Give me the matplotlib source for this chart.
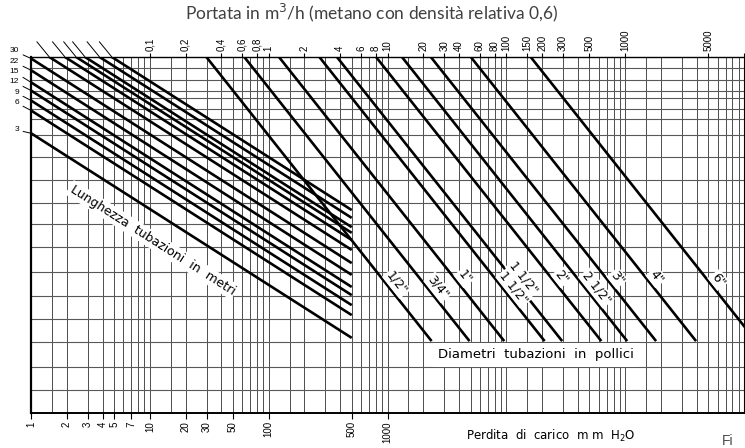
import numpy as np
import matplotlib
matplotlib.use("Agg")
import matplotlib.pyplot as plt
from matplotlib.ticker import FixedLocator, LogLocator, NullFormatter, NullLocator

# bottom axis: pressure drop (mm H2O)
bottom_ticks = [1, 2, 3, 4, 5, 7, 10, 20, 30, 50, 100, 500, 1000]
bottom_labels = ["1", "2", "3", "4", "5", "7", "10", "20", "30", "50", "100", "500", "1000"]

# top axis: flow (m3/h), same log scale shifted by two decades
top_ticks = [0.1, 0.2, 0.4, 0.6, 0.8, 1, 2, 4, 6, 8, 10, 20, 30, 40, 60, 80,
             100, 150, 200, 300, 500, 1000, 5000, 10000]
top_labels = ["0,1", "0,2", "0,4", "0,6", "0,8", "1", "2", "4", "6", "8", "10", "20", "30", "40", "60", "80",
              "100", "150", "200", "300", "500", "1000", "5000", ""]

grid_subs = [1, 1.5, 2, 3, 4, 5, 6, 7, 8, 9]
h_grid = [6.5, 13, 20, 26.5, 33, 39.5, 46.5, 53, 59, 65.5, 72, 78, 82.5, 85.5, 88.5, 90.5, 93.5, 97]

# pipe length lines (m): height where each line stops at 500 mm H2O
lengths = [3, 6, 9, 12, 15, 22, 30, 45, 60, 75, 90, 120, 150]
length_end_y = [21.1, 27.5, 30.3, 33.1, 35.4, 38.8, 42.1, 45.8, 48.6, 50.6, 52.2, 54.8, 57.0]
length_end_x = 500
length_slope = 21.3      # height units per decade
# labels left of the frame for the shorter lengths
left_labelled = [3, 6, 9, 12, 15, 22, 30]
left_label_y = [79.5, 87.1, 89.9, 93.0, 95.8, 98.6, 101.7]

# pipe diameter lines (inches): where each line stops at the bottom
diam_labels = ['1/2"', '3/4"', '1"', '1 1/2"', '1 1/2"', '2"', '2 1/2"', '3"', '4"', '6"']
diam_end_x = [2350, 4900, 9600, 21000, 29500, 63000, 104000, 182000, 395000, 1260000]
diam_end_y = 20.2
diam_slope = 42.1
diam_label_y = [36.5, 35.3, 38.2, 35.1, 37.9, 38.2, 35.1, 37.9, 38.2, 37.4]

W, H = 745, 448
fig = plt.figure(figsize=(W / 100, H / 100), dpi=100)
ax = fig.add_axes([31 / W, (H - 413) / H, (744 - 31) / W, (413 - 57) / H])
ax.set_xscale("log")
ax.set_xlim(1, 1e6)
ax.set_ylim(0, 100)

# grid
ax.xaxis.set_major_locator(FixedLocator(bottom_ticks))
ax.set_xticklabels(bottom_labels, rotation=90, fontsize=7, family="Liberation Sans")
ax.xaxis.set_minor_locator(LogLocator(base=10, subs=grid_subs, numticks=20))
ax.xaxis.set_minor_formatter(NullFormatter())
ax.set_yticks(h_grid)
ax.set_yticklabels([])
ax.tick_params(axis="y", length=0)
ax.tick_params(axis="x", which="major", length=4, width=0.8, pad=2)
ax.tick_params(axis="x", which="minor", length=0)
ax.grid(which="both", axis="x", color="0.3", lw=0.7)
ax.grid(axis="y", color="0.35", lw=0.8)
for s in ax.spines.values():
    s.set_color("black")
ax.spines["left"].set_linewidth(1.6)
ax.spines["bottom"].set_linewidth(1.4)
ax.spines["top"].set_linewidth(1.0)
ax.spines["right"].set_linewidth(0.8)

secax = ax.secondary_xaxis("top", functions=(lambda x: x / 100, lambda x: x * 100))
secax.set_xticks(top_ticks)
secax.set_xticklabels(top_labels, rotation=90, fontsize=7, family="Liberation Sans")
secax.xaxis.set_minor_locator(NullLocator())
secax.tick_params(axis="x", length=3, width=0.8, pad=1)
secax.spines["top"].set_visible(False)

# length lines
for L, ye in zip(lengths, length_end_y):
    xs = np.array([1.0, length_end_x])
    ys = ye + length_slope * np.log10(length_end_x / xs)
    ax.plot(xs, ys, color="black", lw=1.9, solid_capstyle="butt", zorder=3)

# length labels on the left, bare leaders at the top for the others
for L, ye in zip(lengths, length_end_y):
    y0 = ye + length_slope * np.log10(length_end_x)
    if L in left_labelled:
        ly = left_label_y[left_labelled.index(L)]
        ax.annotate(str(L), xy=(1, min(y0, 100)), xycoords="data",
                    xytext=(19, ly), textcoords=("figure pixels", "data"),
                    ha="right", va="center", fontsize=6, family="Liberation Sans",
                    annotation_clip=False,
                    arrowprops=dict(arrowstyle="-", lw=0.7, color="black",
                                    shrinkA=1, shrinkB=0))
    else:
        xc = length_end_x / 10 ** ((100 - ye) / length_slope)
        ax.annotate("", xy=(xc, 100), xycoords="data",
                    xytext=(-9, 11), textcoords="offset points",
                    annotation_clip=False,
                    arrowprops=dict(arrowstyle="-", lw=0.7, color="black",
                                    shrinkA=0, shrinkB=0))

# diameter lines
for xe in diam_end_x:
    xs = np.array([xe / 10 ** ((105 - diam_end_y) / diam_slope), xe])
    ys = diam_end_y + diam_slope * np.log10(xe / xs)
    ax.plot(xs, ys, color="black", lw=1.9, solid_capstyle="butt", zorder=3)


def disp_angle(slope):
    p = ax.transData.transform([(10, 50), (100, 50 - slope)])
    return np.degrees(np.arctan2(p[1, 1] - p[0, 1], p[1, 0] - p[0, 0]))


d_ang = disp_angle(diam_slope)
l_ang = disp_angle(length_slope)

for lab, xe, ly in zip(diam_labels, diam_end_x, diam_label_y):
    xl = xe / 10 ** ((ly - diam_end_y) / diam_slope)
    ax.annotate(lab, xy=(xl, ly), xytext=(8, 0), textcoords="offset points",
                rotation=d_ang, rotation_mode="anchor", ha="center", va="center",
                fontsize=9, family="DejaVu Sans", zorder=4,
                bbox=dict(boxstyle="square,pad=0.1", fc="white", ec="none"))

ax.text(10.5, 48.6, "Lunghezza  tubazioni  in  metri", rotation=l_ang,
        rotation_mode="anchor", ha="center", va="center", fontsize=9,
        family="DejaVu Sans", zorder=4,
        bbox=dict(boxstyle="square,pad=0.15", fc="white", ec="none"))

ax.text(17800, 16.3, "Diametri  tubazioni  in  pollici", ha="center", va="center",
        fontsize=9.5, family="DejaVu Sans", zorder=4,
        bbox=dict(boxstyle="square,pad=0.4", fc="white", ec="none"))

fig.text(466 / W, 1 - 436 / H, "Perdita  di  carico  m m  H$_2$O", ha="left", va="center",
         fontsize=8.5, family="DejaVu Sans")
fig.text(722 / W, 1 - 441 / H, "Fi", ha="left", va="center", fontsize=10,
         family="Liberation Sans", color="0.3")

fig.text(0.4993, 1 - 13 / H, "Portata in m$^3$/h (metano con densità relativa 0,6)",
         ha="center", va="center", fontsize=12.5, family="Lato", color="0.25")

fig.savefig("out.png", dpi=100)
